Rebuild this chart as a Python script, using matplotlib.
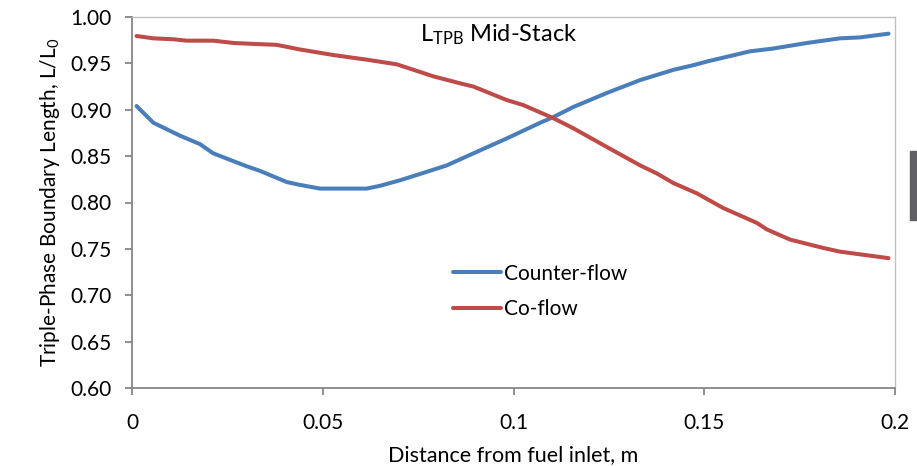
import matplotlib
matplotlib.use("Agg")
import matplotlib.pyplot as plt
from matplotlib.patches import Rectangle

plt.rcParams['font.family'] = ['Lato', 'DejaVu Sans']
plt.rcParams['mathtext.fontset'] = 'custom'
plt.rcParams['mathtext.rm'] = 'Lato'
plt.rcParams['mathtext.it'] = 'Lato'

# Counter-flow curve
x_counter = [0.0012, 0.0056, 0.0126, 0.0178, 0.0213, 0.0301, 0.0336, 0.0406, 0.044, 0.0493,
             0.0615, 0.065, 0.0703, 0.0772, 0.0825, 0.0895, 0.0982, 0.107, 0.1104, 0.1157,
             0.1244, 0.1332, 0.1419, 0.1471, 0.1507, 0.162, 0.1681, 0.1769, 0.1856, 0.1908, 0.1983]
y_counter = [0.904, 0.886, 0.872, 0.863, 0.853, 0.839, 0.834, 0.822, 0.819, 0.815,
             0.815, 0.818, 0.824, 0.833, 0.840, 0.853, 0.869, 0.886, 0.892, 0.903,
             0.918, 0.932, 0.943, 0.948, 0.952, 0.963, 0.966, 0.972, 0.977, 0.978, 0.982]

# Co-flow curve
x_co = [0.0012, 0.0056, 0.0108, 0.0143, 0.0213, 0.0266, 0.0318, 0.0379, 0.044, 0.0528,
        0.0615, 0.0694, 0.079, 0.086, 0.0895, 0.0982, 0.1026, 0.1104, 0.1157, 0.1244,
        0.1332, 0.1375, 0.1419, 0.148, 0.155, 0.1638, 0.1664, 0.1725, 0.1812, 0.1856, 0.1983]
y_co = [0.9795, 0.977, 0.976, 0.9745, 0.9745, 0.972, 0.971, 0.970, 0.965, 0.959,
        0.954, 0.949, 0.936, 0.9285, 0.925, 0.9105, 0.905, 0.891, 0.880, 0.860,
        0.840, 0.8315, 0.821, 0.810, 0.794, 0.778, 0.771, 0.760, 0.751, 0.747, 0.740]

xticks = [0, 0.05, 0.1, 0.15, 0.2]
xtick_labels = ['0', '0.05', '0.1', '0.15', '0.2']
yticks = [0.60, 0.65, 0.70, 0.75, 0.80, 0.85, 0.90, 0.95, 1.00]

blue = '#4a7ebb'
red = '#be4b48'

fig = plt.figure(figsize=(9.17, 4.66), dpi=100)
ax = fig.add_axes([132/917, 78/466, (895-132)/917, (388-17)/466])

ax.plot(x_counter, y_counter, color=blue, lw=2.9, label='Counter-flow', solid_capstyle='round')
ax.plot(x_co, y_co, color=red, lw=2.9, label='Co-flow', solid_capstyle='round')

ax.set_xlim(0, 0.2)
ax.set_ylim(0.6, 1.0)
ax.set_xticks(xticks)
ax.set_xticklabels(xtick_labels)
ax.set_yticks(yticks)
ax.set_yticklabels([f'{v:.2f}' for v in yticks])

for s in ['left', 'bottom']:
    ax.spines[s].set_color('#868686')
    ax.spines[s].set_linewidth(1.3)
for s in ['top', 'right']:
    ax.spines[s].set_color('#c0c0c0')
    ax.spines[s].set_linewidth(1.0)

ax.tick_params(axis='both', colors='#868686', labelcolor='black', labelsize=15,
               length=5, width=1.3, direction='out')
ax.tick_params(axis='x', pad=13)
ax.tick_params(axis='y', pad=10)

ax.set_xlabel('Distance from fuel inlet, m', fontsize=15.5, labelpad=9)
ax.set_ylabel(r'Triple-Phase Boundary Length, L/L$_0$', fontsize=15, labelpad=6)

ax.text(0.0755, 0.981, r'L$_{\mathrm{TPB}}$ Mid-Stack', fontsize=17, va='center', ha='left')

ax.legend(loc='upper left', bbox_to_anchor=(0.41, 0.358), frameon=False, fontsize=15,
          handlelength=2.3, handletextpad=0.12, labelspacing=0.75, borderaxespad=0)

# dark block cut at the right edge of the picture
fig.patches.append(Rectangle((910/917, 1 - 220/466), 7/917, 69/466,
                             transform=fig.transFigure, color='#606064', zorder=5))

fig.savefig('out.png', dpi=100)
